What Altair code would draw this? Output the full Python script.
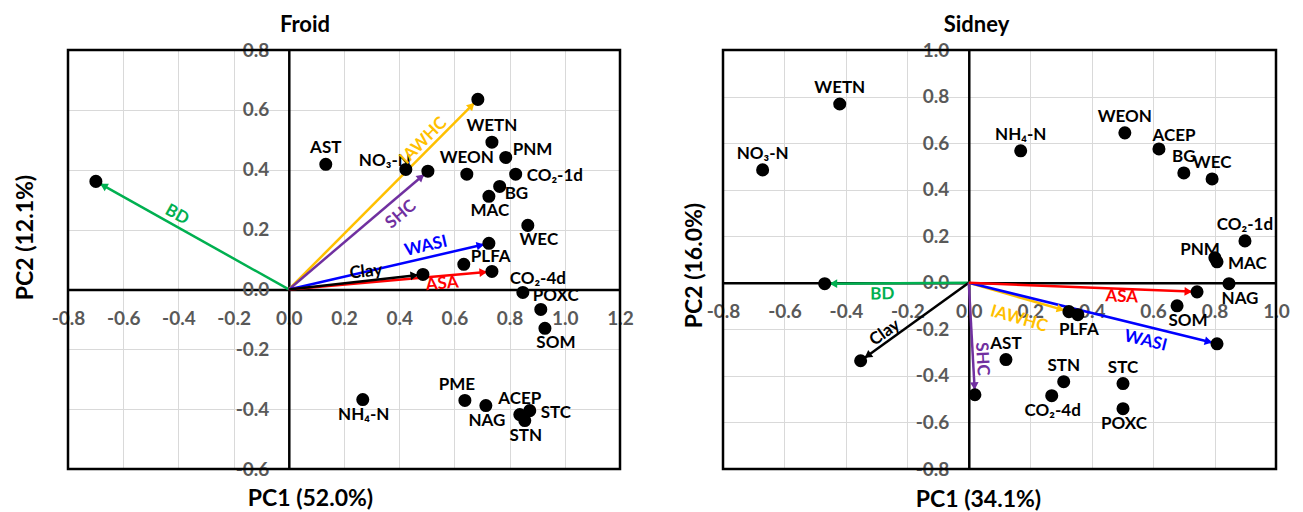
import math
import altair as alt
import pandas as pd

FONT = "Lato, DejaVu Sans"

# ---------------- Froid ----------------
froid_pt_names = ["AST", "NO₃-N", "WETN", "PNM", "WEON", "CO₂-1d", "BG", "MAC", "WEC",
                  "PLFA", "CO₂-4d", "POXC", "SOM", "NH₄-N", "PME", "NAG", "ACEP", "STC", "STN"]
froid_pt_pc1 = [0.134, 0.424, 0.736, 0.786, 0.645, 0.822, 0.764, 0.725, 0.866,
                0.634, 0.848, 0.913, 0.928, 0.268, 0.638, 0.714, 0.837, 0.873, 0.855]
froid_pt_pc2 = [0.418, 0.401, 0.492, 0.441, 0.385, 0.385, 0.344, 0.311, 0.214,
                0.084, -0.010, -0.067, -0.130, -0.368, -0.371, -0.388, -0.418, -0.405, -0.438]
froid_pt_place = ["n", "nw", "n", "ne", "n", "e", "se", "s", "sr",
                  "ne", "nr", "nr", "sr", "s", "nl", "s", "n", "e", "s"]

froid_vec_names = ["BD", "IAWHC", "SHC", "WASI", "ASA", "Clay"]
froid_vec_pc1 = [-0.699, 0.685, 0.504, 0.725, 0.736, 0.486]
froid_vec_pc2 = [0.361, 0.635, 0.395, 0.154, 0.060, 0.050]

froid_x_ticks = [-0.8, -0.6, -0.4, -0.2, 0.0, 0.2, 0.4, 0.6, 0.8, 1.0, 1.2]
froid_y_ticks = [-0.6, -0.4, -0.2, 0.0, 0.2, 0.4, 0.6, 0.8]

# ---------------- Sidney ----------------
sidney_pt_names = ["WETN", "NO₃-N", "NH₄-N", "WEON", "ACEP", "BG", "WEC", "CO₂-1d", "PNM",
                   "MAC", "NAG", "SOM", "PLFA", "AST", "STN", "CO₂-4d", "STC", "POXC"]
sidney_pt_pc1 = [-0.420, -0.671, 0.169, 0.508, 0.619, 0.700, 0.792, 0.899, 0.801,
                 0.808, 0.847, 0.678, 0.355, 0.121, 0.309, 0.270, 0.502, 0.502]
sidney_pt_pc2 = [0.768, 0.485, 0.567, 0.644, 0.575, 0.472, 0.446, 0.180, 0.107,
                 0.090, -0.004, -0.099, -0.137, -0.330, -0.425, -0.485, -0.433, -0.541]
sidney_pt_place = ["n", "n", "n", "n", "nr", "n", "n", "n", "nw",
                   "e", "sr", "sr", "s", "n", "n", "s", "n", "s"]

sidney_vec_names = ["BD", "Clay", "SHC", "IAWHC", "WASI", "ASA"]
sidney_vec_pc1 = [-0.469, -0.352, 0.020, 0.326, 0.808, 0.743]
sidney_vec_pc2 = [-0.004, -0.335, -0.481, -0.124, -0.262, -0.039]

sidney_x_ticks = [-0.8, -0.6, -0.4, -0.2, 0.0, 0.2, 0.4, 0.6, 0.8, 1.0]
sidney_y_ticks = [-0.8, -0.6, -0.4, -0.2, 0.0, 0.2, 0.4, 0.6, 0.8, 1.0]

# ---------------- styles ----------------
VEC_COLORS = {"BD": "#00B050", "IAWHC": "#FFC000", "SHC": "#7030A0",
              "WASI": "#0000FF", "ASA": "#FF0000", "Clay": "#000000"}

# label placement around a dot: align, dx, dy (px)
PLACES = {
    "n": ("center", 0, -16),
    "s": ("center", 1, 15),
    "e": ("left", 11, 2),
    "ne": ("left", 7, -7),
    "nw": ("right", 5, -8),
    "se": ("left", 5, 8),
    "sr": ("center", 11, 15),
    "nr": ("center", 15, -13),
    "nl": ("center", -8, -15),
}

# arrow label style: fraction along arrow, pixel offset
FROID_VLAB = {"BD": (0.58, 0, -12), "IAWHC": (0.75, -7, -6), "SHC": (0.734, 10, 12),
              "WASI": (0.70, -3, -11), "ASA": (0.755, 0, 8), "Clay": (0.575, 0, -9)}
SIDNEY_VLAB = {"BD": (0.60, 0, 11), "Clay": (0.73, -5, -7), "SHC": (0.68, 9, 0),
               "IAWHC": (0.56, -6, 20), "WASI": (0.724, -3, 14), "ASA": (0.67, 0, 8)}

LABEL_EXPR = "replace(format(datum.value, '.1f'), '\u2212', '-')"


def panel(title, tdx, names, p1, p2, place, vnames, v1, v2, vstyle,
          xdom, ydom, xvals, yvals, W, H, xtitle, ytitle, xt_xy, yt_xy):
    kx = W / (xdom[1] - xdom[0])
    ky = H / (ydom[1] - ydom[0])
    x0px = -xdom[0] * kx
    y0px = ydom[1] * ky

    xscale = alt.Scale(domain=xdom, nice=False, zero=False)
    yscale = alt.Scale(domain=ydom, nice=False, zero=False)
    common = dict(labelFont=FONT, labelFontSize=19, labelFontWeight="bold",
                  labelColor="#595959", labelFlush=False, labelOverlap=False,
                  ticks=False, tickSize=0, labelPadding=20, labelExpr=LABEL_EXPR,
                  domainColor="black", domainWidth=2.5, grid=True,
                  gridColor="#d9d9d9", gridWidth=1,
                  titleFont=FONT, titleFontSize=23, titleFontWeight="bold",
                  titleColor="black", titleAlign="center")
    xaxis = alt.Axis(values=xvals, offset=-(H - y0px), title=xtitle,
                     titleX=xt_xy[0], titleY=xt_xy[1] - y0px,
                     titleBaseline="alphabetic", **common)
    yaxis = alt.Axis(values=yvals, offset=-x0px, title=ytitle,
                     titleX=yt_xy[0] - x0px, titleY=yt_xy[1], titleAngle=270,
                     titleBaseline="middle", **common)

    def X(f):
        return alt.X(f, type="quantitative", scale=xscale, axis=xaxis)

    def Y(f):
        return alt.Y(f, type="quantitative", scale=yscale, axis=yaxis)

    # vectors
    rows = []
    for n, a, b in zip(vnames, v1, v2):
        sx, sy = a * kx, -b * ky
        L = math.hypot(sx, sy)
        ux, uy = sx / L, sy / L
        back = 10
        hx, hy = sx - back * ux, sy - back * uy
        hang = math.degrees(math.atan2(sx, -sy)) % 360
        t, ox, oy = vstyle[n]
        lx, ly = t * sx + ox, t * sy + oy
        lang = math.degrees(math.atan2(sy, sx))
        if lang > 90:
            lang -= 180
        if lang <= -90:
            lang += 180
        rows.append(dict(name=n, pc1=a, pc2=b, x0=0.0, y0=0.0,
                         hx=hx / kx, hy=-hy / ky, hang=hang,
                         lx=lx / kx, ly=-ly / ky, lang=lang % 360))
    vdf = pd.DataFrame(rows)
    pdf = pd.DataFrame(dict(name=names, pc1=p1, pc2=p2, place=place))
    dots = pd.concat([pdf[["name", "pc1", "pc2"]], vdf[["name", "pc1", "pc2"]]], ignore_index=True)

    color = alt.Color("name:N", scale=alt.Scale(domain=list(VEC_COLORS.keys()),
                                                range=list(VEC_COLORS.values())), legend=None)

    layers = []
    layers.append(alt.Chart(vdf).mark_rule(strokeWidth=2.5).encode(
        x=X("x0"), y=Y("y0"), x2="pc1", y2="pc2", color=color))
    layers.append(alt.Chart(vdf).mark_point(shape="triangle", filled=True, size=75, opacity=1).encode(
        x=X("hx"), y=Y("hy"), angle=alt.Angle("hang:Q", scale=None), color=color))
    layers.append(alt.Chart(dots).mark_circle(size=170, color="black", opacity=1).encode(
        x=X("pc1"), y=Y("pc2")))
    for key, (align, dx, dy) in PLACES.items():
        sub = pdf[pdf["place"] == key]
        if len(sub) == 0:
            continue
        layers.append(alt.Chart(sub).mark_text(
            font=FONT, fontSize=17, fontWeight="bold", color="black",
            align=align, baseline="middle", dx=dx, dy=dy).encode(
            x=X("pc1"), y=Y("pc2"), text="name:N"))
    layers.append(alt.Chart(vdf).mark_text(
        font=FONT, fontSize=17, fontWeight="bold", align="center", baseline="middle").encode(
        x=X("lx"), y=Y("ly"), text="name:N", angle=alt.Angle("lang:Q", scale=None), color=color))
    layers.append(alt.Chart(pd.DataFrame({"k": [0]})).mark_rect(
        fillOpacity=0, stroke="black", strokeWidth=2.5).encode(
        x=alt.value(0), x2=alt.value(W), y=alt.value(0), y2=alt.value(H)))

    return alt.layer(*layers).properties(
        width=W, height=H,
        title=alt.TitleParams(title, font=FONT, fontSize=22, fontWeight="bold", color="black",
                              anchor="middle", frame="group", dx=tdx, offset=-13,
                              baseline="alphabetic"))


left = panel("Froid", -39, froid_pt_names, froid_pt_pc1, froid_pt_pc2, froid_pt_place,
             froid_vec_names, froid_vec_pc1, froid_vec_pc2, FROID_VLAB,
             [-0.8, 1.2], [-0.6, 0.8], froid_x_ticks, froid_y_ticks, 552, 419,
             "PC1 (52.0%)", "PC2 (12.1%)", (242, 455), (-43, 187))
right = panel("Sidney", -23, sidney_pt_names, sidney_pt_pc1, sidney_pt_pc2, sidney_pt_place,
              sidney_vec_names, sidney_vec_pc1, sidney_vec_pc2, SIDNEY_VLAB,
              [-0.8, 1.0], [-0.8, 1.0], sidney_x_ticks, sidney_y_ticks, 553, 419,
              "PC1 (34.1%)", "PC2 (16.0%)", (255, 456), (-29, 215))

chart = alt.hconcat(left, right, spacing=48).configure_view(stroke=None).properties(
    background="white", padding={"left": 5, "top": 6, "right": 5, "bottom": 5})

chart.save("out.html", embed_options={"renderer": "svg", "actions": False})
